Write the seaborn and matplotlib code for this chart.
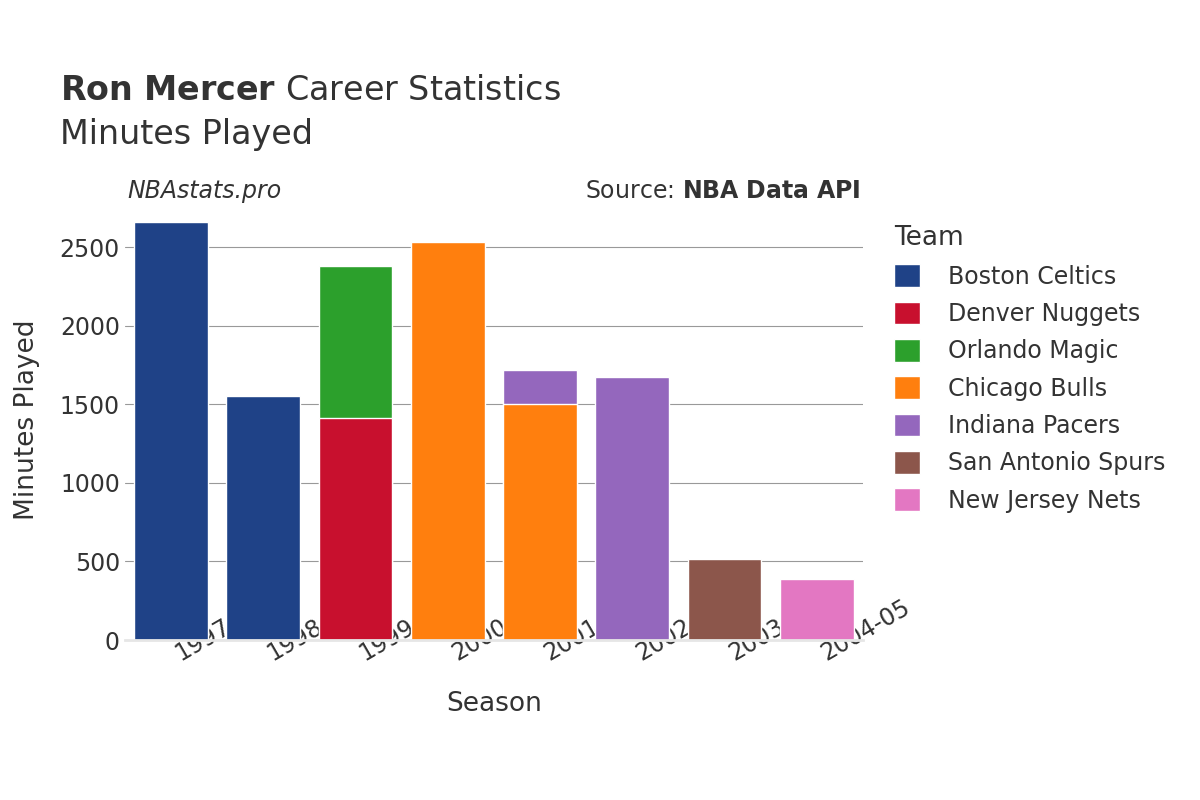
import matplotlib
matplotlib.use("Agg")
import matplotlib.pyplot as plt
import seaborn as sns
import pandas as pd
from matplotlib.patches import Patch

seasons = ["1997-98", "1998-99", "1999-00", "2000-01", "2001-02", "2002-03", "2003-04", "2004-05"]
teams = ["Boston Celtics", "Denver Nuggets", "Orlando Magic", "Chicago Bulls", "Indiana Pacers", "San Antonio Spurs", "New Jersey Nets"]
colors = ["#1f4287", "#c8102e", "#2ca02c", "#ff7f0e", "#9467bd", "#8c564b", "#e377c2"]
# bottom segment per season
bottom_team = ["Boston Celtics", "Boston Celtics", "Denver Nuggets", "Chicago Bulls", "Chicago Bulls", "Indiana Pacers", "San Antonio Spurs", "New Jersey Nets"]
bottom_min = [2662, 1551, 1410, 2535, 1505, 1672, 514, 388]
# top segment (stacked) per season
top_season = ["1999-00", "2001-02"]
top_team = ["Orlando Magic", "Indiana Pacers"]
top_min = [970, 215]

pal = dict(zip(teams, colors))
sns.set_theme(style="white", font="DejaVu Sans")
fig = plt.figure(figsize=(12, 8), dpi=100)
ax = fig.add_axes([0.104, 0.2, 0.615, 0.55])

bot_df = pd.DataFrame({"Season": seasons, "Team": bottom_team, "Min": bottom_min})
base = dict(zip(seasons, bottom_min))
top_df = pd.DataFrame({"Season": top_season, "Team": top_team,
                       "Min": [base[s] + m for s, m in zip(top_season, top_min)]})

sns.barplot(data=top_df, x="Season", y="Min", hue="Team", palette=pal, order=seasons,
            dodge=False, width=0.8, edgecolor="white", linewidth=1, ax=ax, legend=False, saturation=1)
sns.barplot(data=bot_df, x="Season", y="Min", hue="Team", palette=pal, order=seasons,
            dodge=False, width=0.8, edgecolor="white", linewidth=1, ax=ax, legend=False, saturation=1)

ax.set_ylim(0, 2800)
ax.set_xlim(-0.5, 7.5)
ax.set_yticks([0, 500, 1000, 1500, 2000, 2500])
ax.yaxis.grid(True, color="#999999", linewidth=0.8)
ax.set_axisbelow(True)
for s in ["top", "right", "left"]:
    ax.spines[s].set_visible(False)
ax.spines["bottom"].set_color("#e6e6e6")
ax.spines["bottom"].set_linewidth(2)
ax.tick_params(axis="both", labelsize=17, colors="#333333", length=0)
ax.set_xticks(range(len(seasons)))
ax.set_xticklabels(seasons, rotation=30, ha="left", rotation_mode="anchor")
ax.set_xlabel("Season", fontsize=19, color="#333333", labelpad=18)
ax.set_ylabel("Minutes Played", fontsize=19, color="#333333", labelpad=14)

fig.text(0.05, 0.875, r"$\bf{Ron\ Mercer}$ Career Statistics", fontsize=24, color="#333333")
fig.text(0.05, 0.82, "Minutes Played", fontsize=24, color="#333333")
fig.text(0.106, 0.752, "NBAstats.pro", fontsize=17, style="italic", color="#333333")
fig.text(0.717, 0.752, r"Source: $\bf{NBA\ Data\ API}$", fontsize=17, color="#333333", ha="right")

handles = [Patch(facecolor=c, label=t) for t, c in zip(teams, colors)]
leg = fig.legend(handles=handles, title="Team", loc="upper left", bbox_to_anchor=(0.727, 0.745),
                 frameon=False, fontsize=17, title_fontsize=19, handlelength=1.1, handleheight=1.1,
                 labelspacing=0.55, handletextpad=1.2, alignment="left")
for t in leg.get_texts():
    t.set_color("#333333")
leg.get_title().set_color("#333333")

fig.savefig("out.png", dpi=100)
